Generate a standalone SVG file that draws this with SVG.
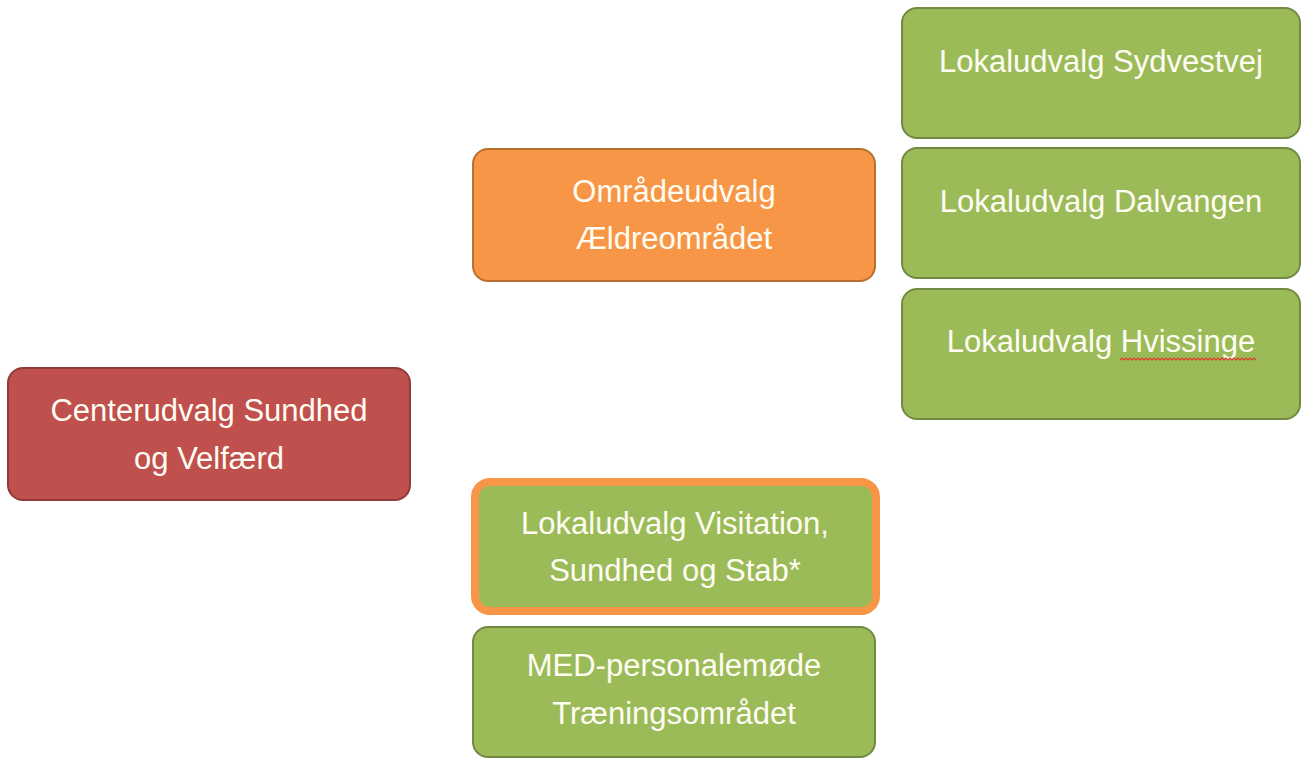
<svg xmlns="http://www.w3.org/2000/svg" width="1302" height="759" viewBox="0 0 1302 759">
<style>
.t{font-family:"Liberation Sans",Arial,sans-serif;font-size:31px;fill:#FFFDF3;text-anchor:middle}
.red{fill:#C0504D;stroke:#8E3B39;stroke-width:2}
.org{fill:#F79646;stroke:#B8702F;stroke-width:2}
.grn{fill:#9BBB59;stroke:#728A40;stroke-width:2}
.hl{fill:#9BBB59;stroke:#F79646;stroke-width:8}
</style>
<rect width="1302" height="759" fill="#FFFFFF"/>
<g id="connectors"></g>
<g id="centerudvalg">
<rect class="red" x="8" y="368" width="402" height="132" rx="15"/>
<text class="t" x="209" y="421">Centerudvalg Sundhed</text>
<text class="t" x="209" y="469">og Velfærd</text>
</g>
<g id="omraadeudvalg">
<rect class="org" x="473" y="149" width="402" height="132" rx="15"/>
<text class="t" x="674" y="202">Områdeudvalg</text>
<text class="t" x="674" y="249">Ældreområdet</text>
</g>
<g id="sydvestvej">
<rect class="grn" x="902" y="8" width="398" height="130" rx="15"/>
<text class="t" x="1101" y="72">Lokaludvalg Sydvestvej</text>
</g>
<g id="dalvangen">
<rect class="grn" x="902" y="148" width="398" height="130" rx="15"/>
<text class="t" x="1101" y="212">Lokaludvalg Dalvangen</text>
</g>
<g id="hvissinge">
<rect class="grn" x="902" y="289" width="398" height="130" rx="15"/>
<text class="t" x="1101" y="352">Lokaludvalg Hvissinge</text>
<path d="M1120 360 l2 -2 l2 2 l2 -2 l2 2 l2 -2 l2 2 l2 -2 l2 2 l2 -2 l2 2 l2 -2 l2 2 l2 -2 l2 2 l2 -2 l2 2 l2 -2 l2 2 l2 -2 l2 2 l2 -2 l2 2 l2 -2 l2 2 l2 -2 l2 2 l2 -2 l2 2 l2 -2 l2 2 l2 -2 l2 2 l2 -2 l2 2 l2 -2 l2 2 l2 -2 l2 2 l2 -2 l2 2 l2 -2 l2 2 l2 -2 l2 2 l2 -2 l2 2 l2 -2 l2 2 l2 -2 l2 2 l2 -2 l2 2 l2 -2 l2 2 l2 -2 l2 2 l2 -2 l2 2 l2 -2 l2 2 l2 -2 l2 2 l2 -2 l2 2 l2 -2 l2 2 l2 -2 l2 2" fill="none" stroke="#E03A2F" stroke-width="1.2"/>
</g>
<g id="visitation">
<rect class="hl" x="475" y="482" width="401" height="129" rx="15"/>
<text class="t" x="675" y="534">Lokaludvalg Visitation,</text>
<text class="t" x="675" y="581">Sundhed og Stab*</text>
</g>
<g id="med">
<rect class="grn" x="473" y="627" width="402" height="130" rx="15"/>
<text class="t" x="674" y="676">MED-personalemøde</text>
<text class="t" x="674" y="724">Træningsområdet</text>
</g>
</svg>
